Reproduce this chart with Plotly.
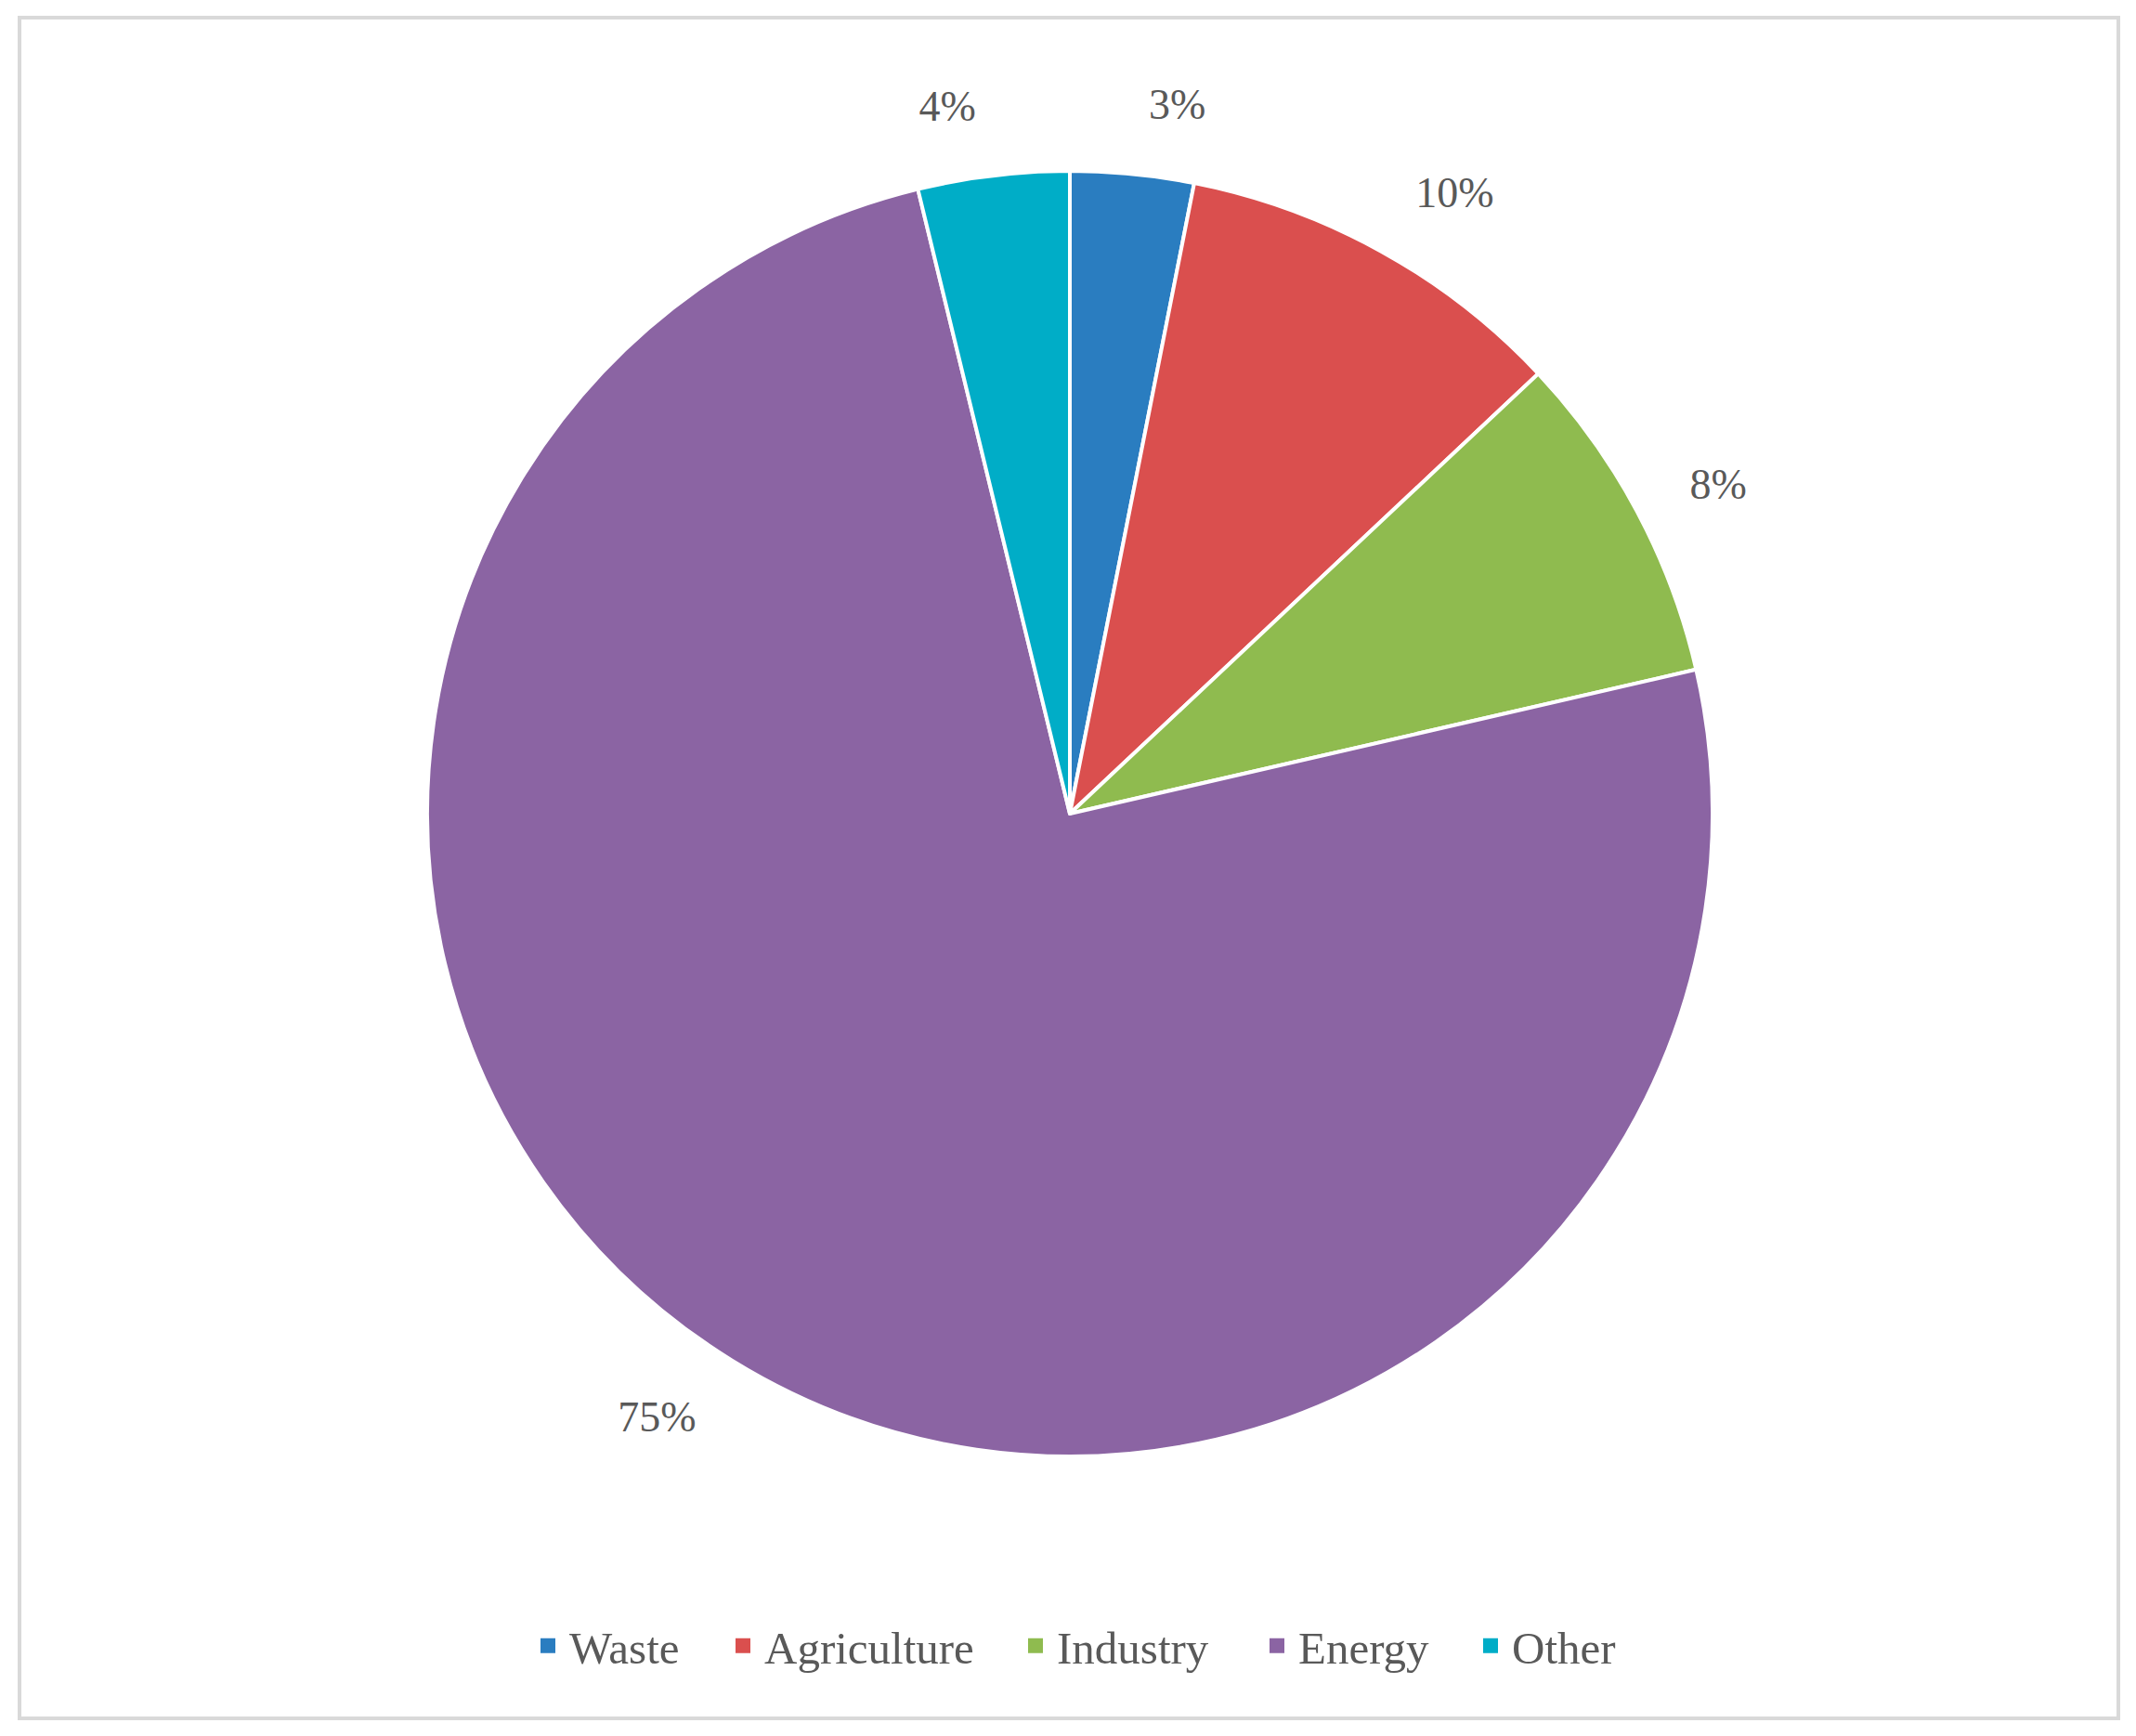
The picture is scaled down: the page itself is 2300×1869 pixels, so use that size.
import plotly.graph_objects as go

categories = ["Waste", "Agriculture", "Industry", "Energy", "Other"]
shares = [3.1, 9.9, 8.4, 74.8, 3.8]
colors = ["#2A7DC0", "#DA4F4E", "#8FBB4F", "#8B64A3", "#00ADC7"]

# page body has an 8px margin -> size figure to fit the window
W, H = 2292, 1861
cx, cy, r = 1144, 868, 692
r_lab = r + 50

def dom(rad):
    return dict(x=[(cx - rad) / W, (cx + rad) / W],
                y=[(H - cy - rad) / H, (H - cy + rad) / H])

label_font = dict(family="Liberation Serif", size=46, color="#595959")

fig = go.Figure()
# transparent, slightly larger pie only used to place the percentage labels
fig.add_trace(go.Pie(
    labels=categories, values=shares, sort=False, direction="clockwise", rotation=0,
    marker=dict(colors=["rgba(0,0,0,0)"] * len(categories), line=dict(width=0)),
    textposition="outside", texttemplate="%{percent:.0%}",
    textfont=label_font, outsidetextfont=label_font,
    domain=dom(r_lab), showlegend=False, hoverinfo="skip",
))
fig.add_trace(go.Pie(
    labels=categories, values=shares, sort=False, direction="clockwise", rotation=0,
    marker=dict(colors=colors, line=dict(color="white", width=4)),
    textinfo="none", domain=dom(r), showlegend=False,
    hoverinfo="label+percent",
))

# legend entries (one legend per entry, laid out in a row)
legend_left = [574, 784, 1099, 1359, 1589]
iw = 36
sym = 16
off = (iw + 10) / 2 - sym / 2
leg_y = (H - 1764) / H
layout_legends = {}
for i, (name, col) in enumerate(zip(categories, colors)):
    lid = "legend" if i == 0 else f"legend{i + 1}"
    fig.add_trace(go.Scatter(
        x=[None], y=[None], mode="markers", name=name,
        marker=dict(symbol="square", size=sym, color=col),
        legend=lid, showlegend=True,
    ))
    layout_legends[lid] = dict(
        orientation="h", x=(legend_left[i] - off) / W, xanchor="left",
        y=leg_y, yanchor="middle", itemwidth=iw,
        font=dict(family="Liberation Serif", size=49, color="#595959"),
        bgcolor="rgba(0,0,0,0)", borderwidth=0,
    )

fig.update_layout(
    width=W, height=H,
    margin=dict(l=0, r=0, t=0, b=0),
    paper_bgcolor="white", plot_bgcolor="white",
    xaxis=dict(visible=False), yaxis=dict(visible=False),
    shapes=[dict(type="rect", xref="paper", yref="paper",
                 x0=13 / W, x1=2273 / W, y0=1 - 1842 / H, y1=1 - 11 / H,
                 line=dict(color="#D9D9D9", width=4), fillcolor="rgba(0,0,0,0)")],
    **layout_legends,
)

fig.write_html("out.html")
